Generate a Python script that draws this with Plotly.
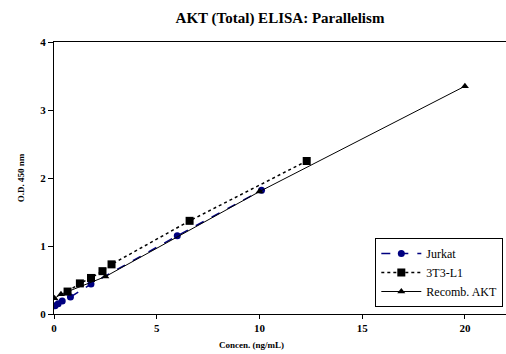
import plotly.graph_objects as go

# Data
jurkat_x = [0.05, 0.2, 0.4, 0.8, 1.8, 6.0, 10.1]
jurkat_y = [0.12, 0.15, 0.19, 0.25, 0.44, 1.15, 1.82]

t3_x = [0.66, 1.26, 1.8, 2.36, 2.8, 6.6, 12.3]
t3_y = [0.33, 0.45, 0.53, 0.63, 0.73, 1.37, 2.25]

rec_x = [0.02, 0.34, 2.5, 10.0, 20.0]
rec_y = [0.23, 0.29, 0.55, 1.80, 3.35]

x_ticks = [0, 5, 10, 15, 20]
y_ticks = [0, 1, 2, 3, 4]

serif = "Liberation Serif"

fig = go.Figure()
fig.add_trace(go.Scatter(
    x=jurkat_x, y=jurkat_y, name="Jurkat", mode="lines+markers",
    line=dict(color="#000080", width=1.5, dash="dash"),
    marker=dict(symbol="circle", size=7, color="#000080")))
fig.add_trace(go.Scatter(
    x=t3_x, y=t3_y, name="3T3-L1", mode="lines+markers",
    line=dict(color="black", width=1.5, dash="dot"),
    marker=dict(symbol="square", size=8, color="black")))
fig.add_trace(go.Scatter(
    x=rec_x, y=rec_y, name="Recomb. AKT", mode="lines+markers",
    line=dict(color="black", width=1),
    marker=dict(symbol="triangle-up", size=7, color="black")))

fig.update_layout(
    width=506, height=354,
    margin=dict(l=54, r=0, t=42, b=40, autoexpand=False),
    paper_bgcolor="white", plot_bgcolor="white",
    font=dict(family=serif, color="black"),
    title=dict(text="<b>AKT (Total) ELISA: Parallelism</b>",
               x=280/506, xanchor="center", y=1 - 18/354, yanchor="middle",
               font=dict(size=15, family=serif)),
    xaxis=dict(range=[0, 22], tickvals=x_ticks, ticktext=[f"<b>{v}</b>" for v in x_ticks],
               showgrid=False, zeroline=False, showline=True, linecolor="black",
               linewidth=1, mirror=True, ticks="outside", ticklen=4, automargin=False,
               tickcolor="black", tickfont=dict(size=11, family=serif)),
    yaxis=dict(range=[0, 4], tickvals=y_ticks, ticktext=[f"<b>{v}</b>" for v in y_ticks],
               showgrid=False, zeroline=False, showline=True, linecolor="black",
               linewidth=1, ticks="outside", ticklen=5, tickcolor="black", automargin=False,
               tickfont=dict(size=11, family=serif),
               title=dict(text="<b>O.D. 450 nm</b>", font=dict(size=9, family=serif),
                          standoff=14)),
    legend=dict(x=503/506, xanchor="right", xref="paper", y=(314-307)/272, yanchor="bottom",
                bgcolor="white", bordercolor="black", borderwidth=1, itemwidth=40,
                font=dict(size=12, family=serif), tracegroupgap=0),
    showlegend=True,
)

fig.add_annotation(text="<b>Concen. (ng/mL)</b>", xref="x", x=9.6,
                   yref="paper", y=-31/272, yanchor="middle", showarrow=False,
                   font=dict(size=9, family=serif))

fig.write_html("out.html", config={"displayModeBar": False},
               post_script="document.body.style.margin='0';")
